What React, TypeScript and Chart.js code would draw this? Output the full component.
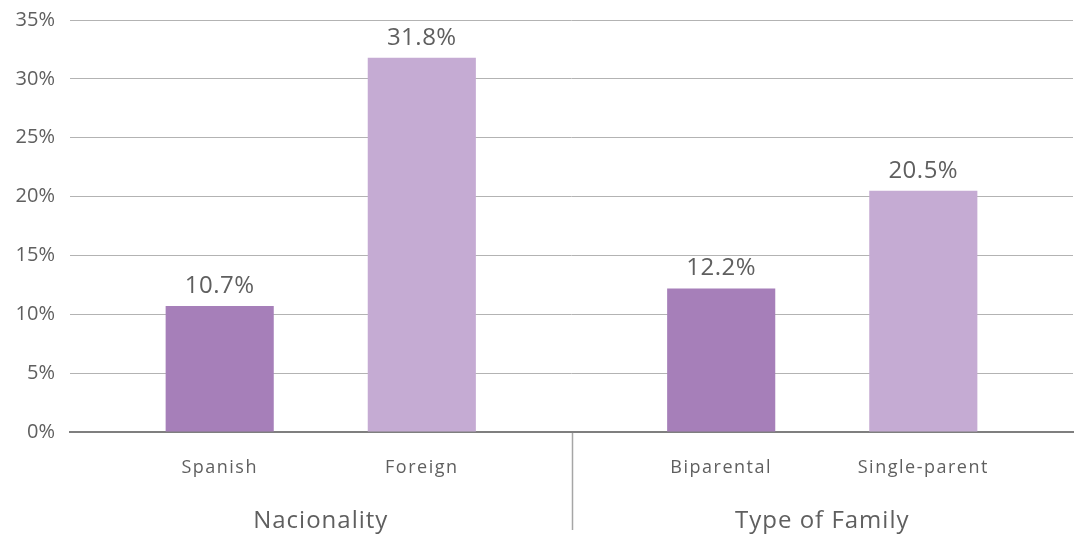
import React, { useEffect, useRef } from "react";
import { Chart, registerables } from "chart.js";

Chart.register(...registerables);

// Category groups and the two bars in each group
const groupLabels = ["Nacionality", "Type of Family"];
const firstBarLabels = ["Spanish", "Biparental"];
const secondBarLabels = ["Foreign", "Single-parent"];
const firstBarValues = [10.7, 12.2];
const secondBarValues = [31.8, 20.5];
const yTickValues = [0, 5, 10, 15, 20, 25, 30, 35];

const TEXT_COLOR = "#5f5f5f";
const FONT = "'Open Sans', 'Noto Sans', sans-serif";

const annotationPlugin = {
  id: "groupAnnotations",
  afterDraw(chart: any) {
    const { ctx, chartArea, scales } = chart;
    const xScale = scales.x;
    ctx.save();
    ctx.fillStyle = TEXT_COLOR;
    ctx.textAlign = "center";

    chart.data.datasets.forEach((ds: any, di: number) => {
      const meta = chart.getDatasetMeta(di);
      meta.data.forEach((bar: any, i: number) => {
        // value label above the bar
        ctx.font = `24px ${FONT}`;
        (ctx as any).letterSpacing = "0.5px";
        ctx.textBaseline = "bottom";
        ctx.fillText(`${ds.data[i].toFixed(1)}%`, bar.x, bar.y - 8);
        // bar name under the axis
        ctx.font = `18px ${FONT}`;
        (ctx as any).letterSpacing = "1.5px";
        ctx.textBaseline = "middle";
        ctx.fillText(ds.barNames[i], bar.x, 468);
      });
    });

    // group names and separators
    ctx.font = `24px ${FONT}`;
    (ctx as any).letterSpacing = "1px";
    ctx.textBaseline = "middle";
    groupLabels.forEach((g, i) => {
      ctx.fillText(g, xScale.getPixelForValue(i), 521);
    });
    ctx.strokeStyle = "#a6a6a6";
    ctx.lineWidth = 1.5;
    for (let i = 0; i < groupLabels.length - 1; i++) {
      const x = Math.round((xScale.getPixelForValue(i) + xScale.getPixelForValue(i + 1)) / 2) + 0.5;
      ctx.beginPath();
      ctx.moveTo(x, chartArea.bottom + 1);
      ctx.lineTo(x, 530);
      ctx.stroke();
    }
    ctx.restore();
  },
};

export default function App() {
  const canvasRef = useRef<HTMLCanvasElement | null>(null);

  useEffect(() => {
    if (!canvasRef.current) return;
    const chart = new Chart(canvasRef.current, {
      type: "bar",
      data: {
        labels: groupLabels,
        datasets: [
          {
            data: firstBarValues,
            barNames: firstBarLabels,
            backgroundColor: "#a67fb9",
            categoryPercentage: 0.806,
            barPercentage: 0.535,
          } as any,
          {
            data: secondBarValues,
            barNames: secondBarLabels,
            backgroundColor: "#c5abd3",
            categoryPercentage: 0.806,
            barPercentage: 0.535,
          } as any,
        ],
      },
      options: {
        responsive: false,
        animation: false,
        devicePixelRatio: 1,
        layout: { padding: { top: 20, right: 2, left: 0, bottom: 0 } },
        plugins: {
          legend: { display: false },
          tooltip: { enabled: false },
        },
        scales: {
          x: {
            grid: { display: false },
            border: { display: true, color: "#7f7f7f", width: 2 },
            ticks: { display: false },
            afterFit(scale: any) {
              scale.height = 102;
            },
          },
          y: {
            min: 0,
            max: 35,
            afterBuildTicks(scale: any) {
              scale.ticks = yTickValues.map((v) => ({ value: v }));
            },
            afterFit(scale: any) {
              scale.width = 70;
            },
            border: { display: false },
            grid: {
              drawTicks: true,
              tickLength: 15,
              tickColor: "rgba(0,0,0,0)",
              color: (c: any) => (c.tick && c.tick.value === 0 ? "rgba(0,0,0,0)" : "#b3b3b3"),
              lineWidth: 1,
            },
            ticks: {
              padding: 0,
              color: TEXT_COLOR,
              font: { family: FONT, size: 20 },
              callback: (v: any) => `${v}%`,
            },
          },
        },
      },
      plugins: [annotationPlugin],
    });
    return () => chart.destroy();
  }, []);

  return (
    <div style={{ position: "absolute", left: 0, top: 0, width: 1075, height: 534, background: "#fff" }}>
      <canvas ref={canvasRef} width={1075} height={534} />
    </div>
  );
}
